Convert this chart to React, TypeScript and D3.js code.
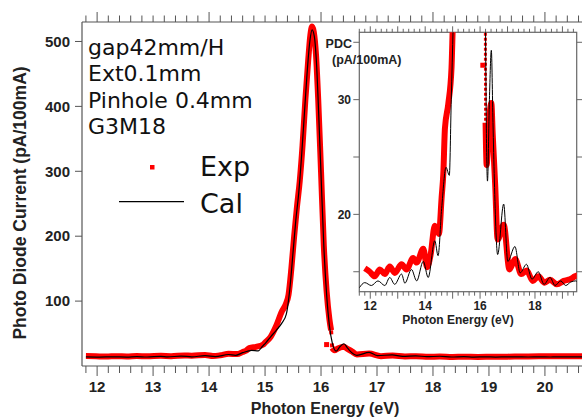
import React from 'react';
import * as d3 from 'd3';

// Experimental (Exp) photo diode current, pA/100mA vs photon energy eV
const expE = [11.8, 11.98, 12.16, 12.35, 12.53, 12.71, 12.89, 13.14, 13.32, 13.56, 13.69, 13.93, 14.07, 14.2, 14.35, 14.5, 14.6, 14.66, 14.72, 14.84, 14.96, 15.0, 15.1, 15.2, 15.3, 15.37, 15.42, 15.47, 15.52, 15.57, 15.62, 15.67, 15.72, 15.77, 15.81, 15.84, 15.87, 15.91, 15.95, 16.0, 16.05, 16.1, 16.15, 16.18];
const expV = [15.3, 15.0, 14.6, 15.2, 14.8, 15.45, 14.9, 15.65, 15.2, 16.2, 15.8, 17.0, 15.4, 16.5, 19.0, 18.3, 21.5, 23.5, 27.5, 29.6, 32.8, 36, 45, 62, 84, 95, 110, 150, 200, 245, 285, 340, 410, 470, 510, 523, 515, 480, 410, 300, 185, 115, 72, 55];
// steep drop of the Exp data (sparse points)
const expDropE = [16.18, 16.19, 16.2];
const expDropV = [55, 40, 28];
// Exp data after the drop
const expTailE = [16.2, 16.24, 16.3, 16.41, 16.46, 16.55, 16.64, 16.86, 17.07, 17.28, 17.5, 17.7, 17.92, 18.12, 18.35, 18.55, 18.8, 19.05, 19.28, 19.46, 19.7, 20.0, 20.3, 20.7];
const expTailV = [28, 24.3, 27, 29.7, 27, 22.6, 17.8, 19.1, 15.2, 16.1, 14.8, 15.1, 14.2, 14.6, 14.05, 14.3, 13.9, 14.2, 14.35, 14.6, 14.8, 15.0, 15.0, 15.0];
// isolated Exp point
const expGlitchE = [16.1];
const expGlitchV = [33];

// Calculated (Cal)
const calE = [11.6, 11.8, 12.04, 12.28, 12.53, 12.71, 12.89, 13.14, 13.26, 13.5, 13.69, 13.93, 14.11, 14.35, 14.47, 14.6, 14.76, 14.88, 14.95, 15.02, 15.1, 15.2, 15.3, 15.38, 15.45, 15.5, 15.55, 15.6, 15.65, 15.7, 15.75, 15.8, 15.84, 15.88, 15.92, 15.96, 16.0, 16.05, 16.1, 16.15, 16.2, 16.27, 16.34, 16.41, 16.47, 16.52, 16.64, 16.86, 17.01, 17.27, 17.46, 17.69, 17.89, 18.12, 18.33, 18.55, 18.73, 18.94, 19.12, 19.3, 19.48, 19.7, 19.9, 20.1, 20.3, 20.5, 20.7];
const calV = [13.6, 14.05, 13.8, 14.2, 13.8, 14.5, 13.9, 14.8, 14.0, 15.2, 14.2, 15.9, 14.5, 17.7, 16.4, 20.5, 24.1, 23.4, 30, 36.5, 45, 55, 66, 80, 125, 175, 225, 265, 320, 385, 450, 500, 518, 508, 465, 385, 295, 185, 110, 62, 36, 22.9, 30, 34.3, 28, 23, 16.5, 20.9, 15.9, 17.2, 14.9, 15.65, 14.35, 15.0, 13.9, 14.5, 13.8, 14.2, 13.8, 14.1, 14.2, 13.9, 14.1, 13.9, 14.0, 13.95, 14.0];

const mainYTicks = [100, 200, 300, 400, 500];
const mainXTickLabels = [12, 13, 14, 15, 16, 17, 18, 19, 20];
const insetYTicks = [15, 20, 25, 30, 35];
const insetYTickLabels = [20, 30];
const insetXTickLabels = [12, 14, 16, 18];
const annotations = ['gap42mm/H', 'Ext0.1mm', 'Pinhole 0.4mm', 'G3M18'];

type P = [number, number];
const zip = (a: number[], b: number[]): P[] => a.map((v, i) => [v, b[i]] as P);

export default function App() {
  const W = 582, H = 417;
  const axisColor = '#555';
  const boldFont = "'Liberation Sans', Arial, sans-serif";

  // main scales
  const x = d3.scaleLinear().domain([11.73, 20.68]).range([82, 583]);
  const y = d3.scaleLinear().domain([0, 530]).range([366, 22]);
  // inset scales
  const xi = d3.scaleLinear().domain([11.6, 19.52]).range([359.3, 576.7]);
  const yi = d3.scaleLinear().domain([13.26, 35.87]).range([291.7, 32.3]);

  const exp = zip(expE, expV);
  const expDrop = zip(expDropE, expDropV);
  const expTail = zip(expTailE, expTailV);
  const cal = zip(calE, calV);
  const glitch = zip(expGlitchE, expGlitchV);

  const mkLine = (sx: any, sy: any) =>
    d3.line<P>().x(d => sx(d[0])).y(d => sy(d[1])).curve(d3.curveMonotoneX);
  const lm = mkLine(x, y);
  const li = mkLine(xi, yi);
  const ll = d3.line<P>().x(d => x(d[0])).y(d => y(d[1]));
  const lli = d3.line<P>().x(d => xi(d[0])).y(d => yi(d[1]));

  const calMain = cal.filter(d => d[0] >= 11.8);

  const mainMinor = x.ticks(45);
  const insetMinor = xi.ticks(40).filter(t => t >= 11.6 && t <= 19.52);
  const isInt = (t: number) => Math.abs(t - Math.round(t)) < 1e-6;

  const [x0, x1] = [82, 583];
  const [y0, y1] = [366, 22];
  const ix0 = 359.3, ix1 = 576.7, iy0 = 291.7, iy1 = 32.3;

  return (
    <svg width={W} height={H} style={{ position: 'absolute', left: 0, top: 0, background: '#fff' }}>
      <defs>
        <clipPath id="mainClip"><rect x={x0} y={y1} width={x1 - x0} height={y0 - y1} /></clipPath>
        <clipPath id="insetClip"><rect x={ix0} y={iy1} width={ix1 - ix0} height={iy0 - iy1} /></clipPath>
      </defs>
      <rect x={0} y={0} width={W} height={H} fill="#fff" />

      {/* main curves */}
      <g clipPath="url(#mainClip)">
        <path d={lm(exp) || ''} fill="none" stroke="#ff0000" strokeWidth={6} strokeLinejoin="round" />
        <path d={ll(expDrop) || ''} fill="none" stroke="#ff0000" strokeWidth={4} strokeDasharray="4 9" />
        <path d={lm(expTail) || ''} fill="none" stroke="#ff0000" strokeWidth={6} strokeLinejoin="round" />
        {glitch.map((d, i) => (
          <rect key={i} x={x(d[0]) - 2.5} y={y(d[1]) - 2.5} width={5} height={5} fill="#ff0000" />
        ))}
        <path d={lm(calMain) || ''} fill="none" stroke="#000" strokeWidth={1.2} />
      </g>

      {/* main axes */}
      <line x1={x0} x2={x1} y1={y0} y2={y0} stroke={axisColor} strokeWidth={1.2} />
      <line x1={x0} x2={x1} y1={y1} y2={y1} stroke={axisColor} strokeWidth={1.2} />
      <line x1={x0} x2={x0} y1={y1} y2={y0} stroke={axisColor} strokeWidth={1.2} />
      {mainMinor.map((t, i) => (
        <g key={i}>
          <line x1={x(t)} x2={x(t)} y1={y0} y2={y0 + (isInt(t) ? 10 : 7)} stroke={axisColor} strokeWidth={1} />
          <line x1={x(t)} x2={x(t)} y1={y1} y2={y1 - (isInt(t) && Math.round(t) % 2 === 0 ? 10 : 6.5)} stroke={axisColor} strokeWidth={1} />
        </g>
      ))}
      {mainXTickLabels.map(t => (
        <text key={t} x={x(t)} y={392} textAnchor="middle" fontFamily={boldFont} fontWeight="bold" fontSize={15} fill="#222">{t}</text>
      ))}
      {mainYTicks.map(t => (
        <g key={t}>
          <line x1={x0 - 7} x2={x0} y1={y(t)} y2={y(t)} stroke={axisColor} strokeWidth={1} />
          <text x={70} y={y(t) + 5.3} textAnchor="end" fontFamily={boldFont} fontWeight="bold" fontSize={15} fill="#222">{t}</text>
        </g>
      ))}
      <text x={325} y={414} textAnchor="middle" fontFamily={boldFont} fontWeight="bold" fontSize={16} fill="#222">Photon Energy (eV)</text>
      <text transform="translate(26,203) rotate(-90)" textAnchor="middle" fontFamily={boldFont} fontWeight="bold" fontSize={17.5} fill="#222">Photo Diode Current (pA/100mA)</text>

      {/* annotations */}
      {annotations.map((a, i) => (
        <text key={a} x={88} y={54.5 + i * 26.5} fontFamily="'DejaVu Sans', sans-serif" fontSize={22} fill="#111">{a}</text>
      ))}
      {/* legend */}
      <rect x={150} y={165} width={4.5} height={4.5} fill="#ff0000" />
      <text x={200} y={176} fontFamily="'DejaVu Sans', sans-serif" fontSize={27} fill="#111">Exp</text>
      <line x1={119} x2={184} y1={201.7} y2={201.7} stroke="#000" strokeWidth={1.3} />
      <text x={200} y={213} fontFamily="'DejaVu Sans', sans-serif" fontSize={27} fill="#111">Cal</text>

      {/* inset */}
      <rect x={ix0} y={iy1} width={ix1 - ix0} height={iy0 - iy1} fill="#fff" stroke="#666" strokeWidth={1.2} />
      <g clipPath="url(#insetClip)">
        <path d={li(exp) || ''} fill="none" stroke="#ff0000" strokeWidth={6} strokeLinejoin="round" />
        <path d={lli(expDrop) || ''} fill="none" stroke="#ff0000" strokeWidth={3} strokeDasharray="3 2" />
        <path d={li(expTail) || ''} fill="none" stroke="#ff0000" strokeWidth={6} strokeLinejoin="round" />
        {glitch.map((d, i) => (
          <rect key={i} x={xi(d[0]) - 2.5} y={yi(d[1]) - 2.5} width={5} height={5} fill="#ff0000" />
        ))}
        <path d={li(cal) || ''} fill="none" stroke="#000" strokeWidth={1} />
      </g>
      {insetMinor.map((t, i) => (
        <g key={i}>
          <line x1={xi(t)} x2={xi(t)} y1={iy0} y2={iy0 + (isInt(t) ? 7 : 4)} stroke="#666" strokeWidth={1} />
          <line x1={xi(t)} x2={xi(t)} y1={iy1} y2={iy1 - (isInt(t) ? 6 : 3.5)} stroke="#666" strokeWidth={1} />
        </g>
      ))}
      {insetYTicks.map(t => (
        <g key={t}>
          <line x1={ix0 - 6} x2={ix0} y1={yi(t)} y2={yi(t)} stroke="#666" strokeWidth={1} />
          <line x1={ix1} x2={ix1 + 6} y1={yi(t)} y2={yi(t)} stroke="#666" strokeWidth={1} />
        </g>
      ))}
      {insetYTickLabels.map(t => (
        <text key={t} x={351} y={yi(t) + 4.3} textAnchor="end" fontFamily={boldFont} fontWeight="bold" fontSize={12} fill="#222">{t}</text>
      ))}
      <text x={352} y={47.5} textAnchor="end" fontFamily={boldFont} fontWeight="bold" fontSize={12.5} fill="#222">PDC</text>
      <text x={332} y={64} fontFamily={boldFont} fontWeight="bold" fontSize={12.5} fill="#222">(pA/100mA)</text>
      {insetXTickLabels.map(t => (
        <text key={t} x={xi(t)} y={310} textAnchor="middle" fontFamily={boldFont} fontWeight="bold" fontSize={12} fill="#222">{t}</text>
      ))}
      <text x={458} y={324} textAnchor="middle" fontFamily={boldFont} fontWeight="bold" fontSize={12} fill="#222">Photon Energy (eV)</text>
    </svg>
  );
}
